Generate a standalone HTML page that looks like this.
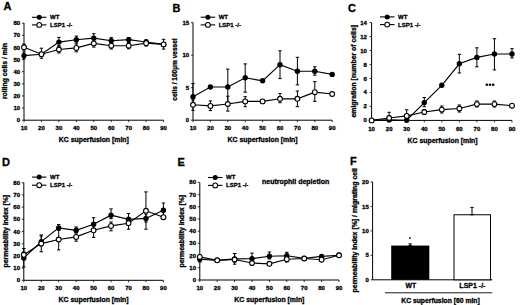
<!DOCTYPE html>
<html><head><meta charset="utf-8"><style>
html,body{margin:0;padding:0;background:#fff;width:520px;height:305px;overflow:hidden}
svg{display:block}
text{font-family:"Liberation Sans", sans-serif;fill:#000;stroke:#000;stroke-width:0.3px}
</style></head><body>
<svg width="520" height="305" viewBox="0 0 520 305">
<text x="3.40" y="9.80" font-size="11" text-anchor="start" font-weight="bold" stroke="#000" stroke-width="0.35">A</text>
<line x1="24.00" y1="23.00" x2="24.00" y2="120.20" stroke="#000" stroke-width="1"/>
<line x1="24.00" y1="120.20" x2="163.60" y2="120.20" stroke="#000" stroke-width="1"/>
<line x1="22.00" y1="120.20" x2="24.00" y2="120.20" stroke="#000" stroke-width="0.8"/>
<text x="20.20" y="122.25" font-size="6" text-anchor="end" font-weight="bold">0</text>
<line x1="22.00" y1="108.08" x2="24.00" y2="108.08" stroke="#000" stroke-width="0.8"/>
<text x="20.20" y="110.12" font-size="6" text-anchor="end" font-weight="bold">10</text>
<line x1="22.00" y1="95.95" x2="24.00" y2="95.95" stroke="#000" stroke-width="0.8"/>
<text x="20.20" y="98.00" font-size="6" text-anchor="end" font-weight="bold">20</text>
<line x1="22.00" y1="83.83" x2="24.00" y2="83.83" stroke="#000" stroke-width="0.8"/>
<text x="20.20" y="85.88" font-size="6" text-anchor="end" font-weight="bold">30</text>
<line x1="22.00" y1="71.70" x2="24.00" y2="71.70" stroke="#000" stroke-width="0.8"/>
<text x="20.20" y="73.75" font-size="6" text-anchor="end" font-weight="bold">40</text>
<line x1="22.00" y1="59.58" x2="24.00" y2="59.58" stroke="#000" stroke-width="0.8"/>
<text x="20.20" y="61.63" font-size="6" text-anchor="end" font-weight="bold">50</text>
<line x1="22.00" y1="47.45" x2="24.00" y2="47.45" stroke="#000" stroke-width="0.8"/>
<text x="20.20" y="49.50" font-size="6" text-anchor="end" font-weight="bold">60</text>
<line x1="22.00" y1="35.33" x2="24.00" y2="35.33" stroke="#000" stroke-width="0.8"/>
<text x="20.20" y="37.38" font-size="6" text-anchor="end" font-weight="bold">70</text>
<line x1="22.00" y1="23.20" x2="24.00" y2="23.20" stroke="#000" stroke-width="0.8"/>
<text x="20.20" y="25.25" font-size="6" text-anchor="end" font-weight="bold">80</text>
<line x1="24.00" y1="120.20" x2="24.00" y2="122.20" stroke="#000" stroke-width="0.8"/>
<text x="24.00" y="130.30" font-size="6" text-anchor="middle" font-weight="bold">10</text>
<line x1="41.45" y1="120.20" x2="41.45" y2="122.20" stroke="#000" stroke-width="0.8"/>
<text x="41.45" y="130.30" font-size="6" text-anchor="middle" font-weight="bold">20</text>
<line x1="58.90" y1="120.20" x2="58.90" y2="122.20" stroke="#000" stroke-width="0.8"/>
<text x="58.90" y="130.30" font-size="6" text-anchor="middle" font-weight="bold">30</text>
<line x1="76.35" y1="120.20" x2="76.35" y2="122.20" stroke="#000" stroke-width="0.8"/>
<text x="76.35" y="130.30" font-size="6" text-anchor="middle" font-weight="bold">40</text>
<line x1="93.80" y1="120.20" x2="93.80" y2="122.20" stroke="#000" stroke-width="0.8"/>
<text x="93.80" y="130.30" font-size="6" text-anchor="middle" font-weight="bold">50</text>
<line x1="111.25" y1="120.20" x2="111.25" y2="122.20" stroke="#000" stroke-width="0.8"/>
<text x="111.25" y="130.30" font-size="6" text-anchor="middle" font-weight="bold">60</text>
<line x1="128.70" y1="120.20" x2="128.70" y2="122.20" stroke="#000" stroke-width="0.8"/>
<text x="128.70" y="130.30" font-size="6" text-anchor="middle" font-weight="bold">70</text>
<line x1="146.15" y1="120.20" x2="146.15" y2="122.20" stroke="#000" stroke-width="0.8"/>
<text x="146.15" y="130.30" font-size="6" text-anchor="middle" font-weight="bold">80</text>
<line x1="163.60" y1="120.20" x2="163.60" y2="122.20" stroke="#000" stroke-width="0.8"/>
<text x="163.60" y="130.30" font-size="6" text-anchor="middle" font-weight="bold">90</text>
<text x="93.80" y="141.70" font-size="6.9" text-anchor="middle" font-weight="bold">KC superfusion [min]</text>
<text x="7.40" y="71.10" font-size="6.85" text-anchor="middle" font-weight="bold" transform="rotate(-90 7.4 71.1)">rolling cells / min</text>
<line x1="32.00" y1="17.30" x2="46.50" y2="17.30" stroke="#000" stroke-width="1.1"/>
<circle cx="39.20" cy="17.30" r="2.5" fill="#000"/>
<text x="50.00" y="19.20" font-size="6" text-anchor="start" font-weight="bold">WT</text>
<line x1="32.00" y1="24.90" x2="46.50" y2="24.90" stroke="#000" stroke-width="1.1"/>
<circle cx="39.20" cy="24.90" r="2.40" fill="#fff" stroke="#000" stroke-width="1.1"/>
<text x="50.00" y="26.80" font-size="6" text-anchor="start" font-weight="bold">LSP1 -/-</text>
<line x1="24.00" y1="52.00" x2="24.00" y2="58.90" stroke="#000" stroke-width="1.0"/>
<line x1="22.30" y1="52.00" x2="25.70" y2="52.00" stroke="#000" stroke-width="1.0"/>
<line x1="22.30" y1="58.90" x2="25.70" y2="58.90" stroke="#000" stroke-width="1.0"/>
<line x1="41.45" y1="48.20" x2="41.45" y2="58.30" stroke="#000" stroke-width="1.0"/>
<line x1="39.75" y1="48.20" x2="43.15" y2="48.20" stroke="#000" stroke-width="1.0"/>
<line x1="39.75" y1="58.30" x2="43.15" y2="58.30" stroke="#000" stroke-width="1.0"/>
<line x1="58.90" y1="37.40" x2="58.90" y2="46.00" stroke="#000" stroke-width="1.0"/>
<line x1="57.20" y1="37.40" x2="60.60" y2="37.40" stroke="#000" stroke-width="1.0"/>
<line x1="57.20" y1="46.00" x2="60.60" y2="46.00" stroke="#000" stroke-width="1.0"/>
<line x1="76.35" y1="36.10" x2="76.35" y2="43.00" stroke="#000" stroke-width="1.0"/>
<line x1="74.65" y1="36.10" x2="78.05" y2="36.10" stroke="#000" stroke-width="1.0"/>
<line x1="74.65" y1="43.00" x2="78.05" y2="43.00" stroke="#000" stroke-width="1.0"/>
<line x1="93.80" y1="33.70" x2="93.80" y2="42.00" stroke="#000" stroke-width="1.0"/>
<line x1="92.10" y1="33.70" x2="95.50" y2="33.70" stroke="#000" stroke-width="1.0"/>
<line x1="92.10" y1="42.00" x2="95.50" y2="42.00" stroke="#000" stroke-width="1.0"/>
<line x1="111.25" y1="37.60" x2="111.25" y2="44.00" stroke="#000" stroke-width="1.0"/>
<line x1="109.55" y1="37.60" x2="112.95" y2="37.60" stroke="#000" stroke-width="1.0"/>
<line x1="109.55" y1="44.00" x2="112.95" y2="44.00" stroke="#000" stroke-width="1.0"/>
<line x1="128.70" y1="37.60" x2="128.70" y2="42.00" stroke="#000" stroke-width="1.0"/>
<line x1="127.00" y1="37.60" x2="130.40" y2="37.60" stroke="#000" stroke-width="1.0"/>
<line x1="127.00" y1="42.00" x2="130.40" y2="42.00" stroke="#000" stroke-width="1.0"/>
<line x1="146.15" y1="39.80" x2="146.15" y2="44.00" stroke="#000" stroke-width="1.0"/>
<line x1="144.45" y1="39.80" x2="147.85" y2="39.80" stroke="#000" stroke-width="1.0"/>
<line x1="144.45" y1="44.00" x2="147.85" y2="44.00" stroke="#000" stroke-width="1.0"/>
<line x1="24.00" y1="44.00" x2="24.00" y2="50.00" stroke="#000" stroke-width="1.0"/>
<line x1="22.30" y1="44.00" x2="25.70" y2="44.00" stroke="#000" stroke-width="1.0"/>
<line x1="22.30" y1="50.00" x2="25.70" y2="50.00" stroke="#000" stroke-width="1.0"/>
<line x1="58.90" y1="46.00" x2="58.90" y2="53.00" stroke="#000" stroke-width="1.0"/>
<line x1="57.20" y1="46.00" x2="60.60" y2="46.00" stroke="#000" stroke-width="1.0"/>
<line x1="57.20" y1="53.00" x2="60.60" y2="53.00" stroke="#000" stroke-width="1.0"/>
<line x1="76.35" y1="44.00" x2="76.35" y2="51.80" stroke="#000" stroke-width="1.0"/>
<line x1="74.65" y1="44.00" x2="78.05" y2="44.00" stroke="#000" stroke-width="1.0"/>
<line x1="74.65" y1="51.80" x2="78.05" y2="51.80" stroke="#000" stroke-width="1.0"/>
<line x1="93.80" y1="40.00" x2="93.80" y2="47.10" stroke="#000" stroke-width="1.0"/>
<line x1="92.10" y1="40.00" x2="95.50" y2="40.00" stroke="#000" stroke-width="1.0"/>
<line x1="92.10" y1="47.10" x2="95.50" y2="47.10" stroke="#000" stroke-width="1.0"/>
<line x1="111.25" y1="42.00" x2="111.25" y2="49.00" stroke="#000" stroke-width="1.0"/>
<line x1="109.55" y1="42.00" x2="112.95" y2="42.00" stroke="#000" stroke-width="1.0"/>
<line x1="109.55" y1="49.00" x2="112.95" y2="49.00" stroke="#000" stroke-width="1.0"/>
<line x1="128.70" y1="42.50" x2="128.70" y2="48.80" stroke="#000" stroke-width="1.0"/>
<line x1="127.00" y1="42.50" x2="130.40" y2="42.50" stroke="#000" stroke-width="1.0"/>
<line x1="127.00" y1="48.80" x2="130.40" y2="48.80" stroke="#000" stroke-width="1.0"/>
<line x1="146.15" y1="41.00" x2="146.15" y2="46.00" stroke="#000" stroke-width="1.0"/>
<line x1="144.45" y1="41.00" x2="147.85" y2="41.00" stroke="#000" stroke-width="1.0"/>
<line x1="144.45" y1="46.00" x2="147.85" y2="46.00" stroke="#000" stroke-width="1.0"/>
<line x1="163.60" y1="39.30" x2="163.60" y2="49.10" stroke="#000" stroke-width="1.0"/>
<line x1="161.90" y1="39.30" x2="165.30" y2="39.30" stroke="#000" stroke-width="1.0"/>
<line x1="161.90" y1="49.10" x2="165.30" y2="49.10" stroke="#000" stroke-width="1.0"/>
<polyline points="24.00,55.60 41.45,54.20 58.90,42.10 76.35,39.70 93.80,38.10 111.25,40.70 128.70,39.60 146.15,42.00 163.60,44.40" fill="none" stroke="#000" stroke-width="1.15"/>
<polyline points="24.00,47.30 41.45,54.20 58.90,49.50 76.35,47.90 93.80,43.40 111.25,45.70 128.70,45.70 146.15,43.20 163.60,44.40" fill="none" stroke="#000" stroke-width="1.15"/>
<circle cx="24.00" cy="55.60" r="2.7" fill="#000"/>
<circle cx="41.45" cy="54.20" r="2.7" fill="#000"/>
<circle cx="58.90" cy="42.10" r="2.7" fill="#000"/>
<circle cx="76.35" cy="39.70" r="2.7" fill="#000"/>
<circle cx="93.80" cy="38.10" r="2.7" fill="#000"/>
<circle cx="111.25" cy="40.70" r="2.7" fill="#000"/>
<circle cx="128.70" cy="39.60" r="2.7" fill="#000"/>
<circle cx="146.15" cy="42.00" r="2.7" fill="#000"/>
<circle cx="163.60" cy="44.40" r="2.7" fill="#000"/>
<circle cx="24.00" cy="47.30" r="2.40" fill="#fff" stroke="#000" stroke-width="1.1"/>
<circle cx="41.45" cy="54.20" r="2.40" fill="#fff" stroke="#000" stroke-width="1.1"/>
<circle cx="58.90" cy="49.50" r="2.40" fill="#fff" stroke="#000" stroke-width="1.1"/>
<circle cx="76.35" cy="47.90" r="2.40" fill="#fff" stroke="#000" stroke-width="1.1"/>
<circle cx="93.80" cy="43.40" r="2.40" fill="#fff" stroke="#000" stroke-width="1.1"/>
<circle cx="111.25" cy="45.70" r="2.40" fill="#fff" stroke="#000" stroke-width="1.1"/>
<circle cx="128.70" cy="45.70" r="2.40" fill="#fff" stroke="#000" stroke-width="1.1"/>
<circle cx="146.15" cy="43.20" r="2.40" fill="#fff" stroke="#000" stroke-width="1.1"/>
<circle cx="163.60" cy="44.40" r="2.40" fill="#fff" stroke="#000" stroke-width="1.1"/>
<text x="172.40" y="12.30" font-size="11" text-anchor="start" font-weight="bold" stroke="#000" stroke-width="0.35">B</text>
<line x1="193.00" y1="22.60" x2="193.00" y2="120.20" stroke="#000" stroke-width="1"/>
<line x1="193.00" y1="120.20" x2="332.20" y2="120.20" stroke="#000" stroke-width="1"/>
<line x1="191.00" y1="120.20" x2="193.00" y2="120.20" stroke="#000" stroke-width="0.8"/>
<text x="189.20" y="122.25" font-size="6" text-anchor="end" font-weight="bold">0</text>
<line x1="191.00" y1="87.70" x2="193.00" y2="87.70" stroke="#000" stroke-width="0.8"/>
<text x="189.20" y="89.75" font-size="6" text-anchor="end" font-weight="bold">5</text>
<line x1="191.00" y1="55.20" x2="193.00" y2="55.20" stroke="#000" stroke-width="0.8"/>
<text x="189.20" y="57.25" font-size="6" text-anchor="end" font-weight="bold">10</text>
<line x1="191.00" y1="22.70" x2="193.00" y2="22.70" stroke="#000" stroke-width="0.8"/>
<text x="189.20" y="24.75" font-size="6" text-anchor="end" font-weight="bold">15</text>
<line x1="193.00" y1="120.20" x2="193.00" y2="122.20" stroke="#000" stroke-width="0.8"/>
<text x="193.00" y="130.30" font-size="6" text-anchor="middle" font-weight="bold">10</text>
<line x1="210.40" y1="120.20" x2="210.40" y2="122.20" stroke="#000" stroke-width="0.8"/>
<text x="210.40" y="130.30" font-size="6" text-anchor="middle" font-weight="bold">20</text>
<line x1="227.80" y1="120.20" x2="227.80" y2="122.20" stroke="#000" stroke-width="0.8"/>
<text x="227.80" y="130.30" font-size="6" text-anchor="middle" font-weight="bold">30</text>
<line x1="245.20" y1="120.20" x2="245.20" y2="122.20" stroke="#000" stroke-width="0.8"/>
<text x="245.20" y="130.30" font-size="6" text-anchor="middle" font-weight="bold">40</text>
<line x1="262.60" y1="120.20" x2="262.60" y2="122.20" stroke="#000" stroke-width="0.8"/>
<text x="262.60" y="130.30" font-size="6" text-anchor="middle" font-weight="bold">50</text>
<line x1="280.00" y1="120.20" x2="280.00" y2="122.20" stroke="#000" stroke-width="0.8"/>
<text x="280.00" y="130.30" font-size="6" text-anchor="middle" font-weight="bold">60</text>
<line x1="297.40" y1="120.20" x2="297.40" y2="122.20" stroke="#000" stroke-width="0.8"/>
<text x="297.40" y="130.30" font-size="6" text-anchor="middle" font-weight="bold">70</text>
<line x1="314.80" y1="120.20" x2="314.80" y2="122.20" stroke="#000" stroke-width="0.8"/>
<text x="314.80" y="130.30" font-size="6" text-anchor="middle" font-weight="bold">80</text>
<line x1="332.20" y1="120.20" x2="332.20" y2="122.20" stroke="#000" stroke-width="0.8"/>
<text x="332.20" y="130.30" font-size="6" text-anchor="middle" font-weight="bold">90</text>
<text x="262.60" y="141.70" font-size="6.9" text-anchor="middle" font-weight="bold">KC superfusion [min]</text>
<text x="176.80" y="69.50" font-size="6.56" text-anchor="middle" font-weight="bold" transform="rotate(-90 176.8 69.5)">cells / 100µm vessel</text>
<line x1="200.70" y1="17.20" x2="215.20" y2="17.20" stroke="#000" stroke-width="1.1"/>
<circle cx="207.90" cy="17.20" r="2.5" fill="#000"/>
<text x="218.70" y="19.10" font-size="6" text-anchor="start" font-weight="bold">WT</text>
<line x1="200.70" y1="24.90" x2="215.20" y2="24.90" stroke="#000" stroke-width="1.1"/>
<circle cx="207.90" cy="24.90" r="2.40" fill="#fff" stroke="#000" stroke-width="1.1"/>
<text x="218.70" y="26.80" font-size="6" text-anchor="start" font-weight="bold">LSP1 -/-</text>
<line x1="193.00" y1="83.50" x2="193.00" y2="100.00" stroke="#000" stroke-width="1.0"/>
<line x1="191.30" y1="83.50" x2="194.70" y2="83.50" stroke="#000" stroke-width="1.0"/>
<line x1="191.30" y1="100.00" x2="194.70" y2="100.00" stroke="#000" stroke-width="1.0"/>
<line x1="227.80" y1="69.10" x2="227.80" y2="105.90" stroke="#000" stroke-width="1.0"/>
<line x1="226.10" y1="69.10" x2="229.50" y2="69.10" stroke="#000" stroke-width="1.0"/>
<line x1="226.10" y1="105.90" x2="229.50" y2="105.90" stroke="#000" stroke-width="1.0"/>
<line x1="245.20" y1="63.90" x2="245.20" y2="92.20" stroke="#000" stroke-width="1.0"/>
<line x1="243.50" y1="63.90" x2="246.90" y2="63.90" stroke="#000" stroke-width="1.0"/>
<line x1="243.50" y1="92.20" x2="246.90" y2="92.20" stroke="#000" stroke-width="1.0"/>
<line x1="280.00" y1="50.80" x2="280.00" y2="78.60" stroke="#000" stroke-width="1.0"/>
<line x1="278.30" y1="50.80" x2="281.70" y2="50.80" stroke="#000" stroke-width="1.0"/>
<line x1="278.30" y1="78.60" x2="281.70" y2="78.60" stroke="#000" stroke-width="1.0"/>
<line x1="297.40" y1="57.30" x2="297.40" y2="84.90" stroke="#000" stroke-width="1.0"/>
<line x1="295.70" y1="57.30" x2="299.10" y2="57.30" stroke="#000" stroke-width="1.0"/>
<line x1="295.70" y1="84.90" x2="299.10" y2="84.90" stroke="#000" stroke-width="1.0"/>
<line x1="314.80" y1="66.80" x2="314.80" y2="75.20" stroke="#000" stroke-width="1.0"/>
<line x1="313.10" y1="66.80" x2="316.50" y2="66.80" stroke="#000" stroke-width="1.0"/>
<line x1="313.10" y1="75.20" x2="316.50" y2="75.20" stroke="#000" stroke-width="1.0"/>
<line x1="193.00" y1="98.60" x2="193.00" y2="110.40" stroke="#000" stroke-width="1.0"/>
<line x1="191.30" y1="98.60" x2="194.70" y2="98.60" stroke="#000" stroke-width="1.0"/>
<line x1="191.30" y1="110.40" x2="194.70" y2="110.40" stroke="#000" stroke-width="1.0"/>
<line x1="210.40" y1="100.90" x2="210.40" y2="110.60" stroke="#000" stroke-width="1.0"/>
<line x1="208.70" y1="100.90" x2="212.10" y2="100.90" stroke="#000" stroke-width="1.0"/>
<line x1="208.70" y1="110.60" x2="212.10" y2="110.60" stroke="#000" stroke-width="1.0"/>
<line x1="227.80" y1="96.20" x2="227.80" y2="111.10" stroke="#000" stroke-width="1.0"/>
<line x1="226.10" y1="96.20" x2="229.50" y2="96.20" stroke="#000" stroke-width="1.0"/>
<line x1="226.10" y1="111.10" x2="229.50" y2="111.10" stroke="#000" stroke-width="1.0"/>
<line x1="245.20" y1="96.70" x2="245.20" y2="106.70" stroke="#000" stroke-width="1.0"/>
<line x1="243.50" y1="96.70" x2="246.90" y2="96.70" stroke="#000" stroke-width="1.0"/>
<line x1="243.50" y1="106.70" x2="246.90" y2="106.70" stroke="#000" stroke-width="1.0"/>
<line x1="280.00" y1="93.50" x2="280.00" y2="102.70" stroke="#000" stroke-width="1.0"/>
<line x1="278.30" y1="93.50" x2="281.70" y2="93.50" stroke="#000" stroke-width="1.0"/>
<line x1="278.30" y1="102.70" x2="281.70" y2="102.70" stroke="#000" stroke-width="1.0"/>
<line x1="297.40" y1="91.00" x2="297.40" y2="106.70" stroke="#000" stroke-width="1.0"/>
<line x1="295.70" y1="91.00" x2="299.10" y2="91.00" stroke="#000" stroke-width="1.0"/>
<line x1="295.70" y1="106.70" x2="299.10" y2="106.70" stroke="#000" stroke-width="1.0"/>
<line x1="314.80" y1="81.70" x2="314.80" y2="101.40" stroke="#000" stroke-width="1.0"/>
<line x1="313.10" y1="81.70" x2="316.50" y2="81.70" stroke="#000" stroke-width="1.0"/>
<line x1="313.10" y1="101.40" x2="316.50" y2="101.40" stroke="#000" stroke-width="1.0"/>
<polyline points="193.00,96.70 210.40,87.00 227.80,87.00 245.20,77.80 262.60,80.80 280.00,64.70 297.40,71.20 314.80,71.20 332.20,74.40" fill="none" stroke="#000" stroke-width="1.15"/>
<polyline points="193.00,104.80 210.40,105.90 227.80,104.00 245.20,101.40 262.60,101.40 280.00,98.80 297.40,98.80 314.80,92.20 332.20,94.00" fill="none" stroke="#000" stroke-width="1.15"/>
<circle cx="193.00" cy="96.70" r="2.7" fill="#000"/>
<circle cx="210.40" cy="87.00" r="2.7" fill="#000"/>
<circle cx="227.80" cy="87.00" r="2.7" fill="#000"/>
<circle cx="245.20" cy="77.80" r="2.7" fill="#000"/>
<circle cx="262.60" cy="80.80" r="2.7" fill="#000"/>
<circle cx="280.00" cy="64.70" r="2.7" fill="#000"/>
<circle cx="297.40" cy="71.20" r="2.7" fill="#000"/>
<circle cx="314.80" cy="71.20" r="2.7" fill="#000"/>
<circle cx="332.20" cy="74.40" r="2.7" fill="#000"/>
<circle cx="193.00" cy="104.80" r="2.40" fill="#fff" stroke="#000" stroke-width="1.1"/>
<circle cx="210.40" cy="105.90" r="2.40" fill="#fff" stroke="#000" stroke-width="1.1"/>
<circle cx="227.80" cy="104.00" r="2.40" fill="#fff" stroke="#000" stroke-width="1.1"/>
<circle cx="245.20" cy="101.40" r="2.40" fill="#fff" stroke="#000" stroke-width="1.1"/>
<circle cx="262.60" cy="101.40" r="2.40" fill="#fff" stroke="#000" stroke-width="1.1"/>
<circle cx="280.00" cy="98.80" r="2.40" fill="#fff" stroke="#000" stroke-width="1.1"/>
<circle cx="297.40" cy="98.80" r="2.40" fill="#fff" stroke="#000" stroke-width="1.1"/>
<circle cx="314.80" cy="92.20" r="2.40" fill="#fff" stroke="#000" stroke-width="1.1"/>
<circle cx="332.20" cy="94.00" r="2.40" fill="#fff" stroke="#000" stroke-width="1.1"/>
<text x="348.10" y="12.40" font-size="11" text-anchor="start" font-weight="bold" stroke="#000" stroke-width="0.35">C</text>
<line x1="371.60" y1="22.60" x2="371.60" y2="120.40" stroke="#000" stroke-width="1"/>
<line x1="371.60" y1="120.40" x2="512.00" y2="120.40" stroke="#000" stroke-width="1"/>
<line x1="369.60" y1="120.40" x2="371.60" y2="120.40" stroke="#000" stroke-width="0.8"/>
<text x="366.90" y="122.45" font-size="6" text-anchor="end" font-weight="bold">0</text>
<line x1="369.60" y1="106.42" x2="371.60" y2="106.42" stroke="#000" stroke-width="0.8"/>
<text x="366.90" y="108.47" font-size="6" text-anchor="end" font-weight="bold">2</text>
<line x1="369.60" y1="92.44" x2="371.60" y2="92.44" stroke="#000" stroke-width="0.8"/>
<text x="366.90" y="94.49" font-size="6" text-anchor="end" font-weight="bold">4</text>
<line x1="369.60" y1="78.46" x2="371.60" y2="78.46" stroke="#000" stroke-width="0.8"/>
<text x="366.90" y="80.51" font-size="6" text-anchor="end" font-weight="bold">6</text>
<line x1="369.60" y1="64.48" x2="371.60" y2="64.48" stroke="#000" stroke-width="0.8"/>
<text x="366.90" y="66.53" font-size="6" text-anchor="end" font-weight="bold">8</text>
<line x1="369.60" y1="50.50" x2="371.60" y2="50.50" stroke="#000" stroke-width="0.8"/>
<text x="366.90" y="52.55" font-size="6" text-anchor="end" font-weight="bold">10</text>
<line x1="369.60" y1="36.52" x2="371.60" y2="36.52" stroke="#000" stroke-width="0.8"/>
<text x="366.90" y="38.57" font-size="6" text-anchor="end" font-weight="bold">12</text>
<line x1="369.60" y1="22.54" x2="371.60" y2="22.54" stroke="#000" stroke-width="0.8"/>
<text x="366.90" y="24.59" font-size="6" text-anchor="end" font-weight="bold">14</text>
<line x1="371.60" y1="120.40" x2="371.60" y2="122.40" stroke="#000" stroke-width="0.8"/>
<text x="371.60" y="130.80" font-size="6" text-anchor="middle" font-weight="bold">10</text>
<line x1="389.15" y1="120.40" x2="389.15" y2="122.40" stroke="#000" stroke-width="0.8"/>
<text x="389.15" y="130.80" font-size="6" text-anchor="middle" font-weight="bold">20</text>
<line x1="406.70" y1="120.40" x2="406.70" y2="122.40" stroke="#000" stroke-width="0.8"/>
<text x="406.70" y="130.80" font-size="6" text-anchor="middle" font-weight="bold">30</text>
<line x1="424.25" y1="120.40" x2="424.25" y2="122.40" stroke="#000" stroke-width="0.8"/>
<text x="424.25" y="130.80" font-size="6" text-anchor="middle" font-weight="bold">40</text>
<line x1="441.80" y1="120.40" x2="441.80" y2="122.40" stroke="#000" stroke-width="0.8"/>
<text x="441.80" y="130.80" font-size="6" text-anchor="middle" font-weight="bold">50</text>
<line x1="459.35" y1="120.40" x2="459.35" y2="122.40" stroke="#000" stroke-width="0.8"/>
<text x="459.35" y="130.80" font-size="6" text-anchor="middle" font-weight="bold">60</text>
<line x1="476.90" y1="120.40" x2="476.90" y2="122.40" stroke="#000" stroke-width="0.8"/>
<text x="476.90" y="130.80" font-size="6" text-anchor="middle" font-weight="bold">70</text>
<line x1="494.45" y1="120.40" x2="494.45" y2="122.40" stroke="#000" stroke-width="0.8"/>
<text x="494.45" y="130.80" font-size="6" text-anchor="middle" font-weight="bold">80</text>
<line x1="512.00" y1="120.40" x2="512.00" y2="122.40" stroke="#000" stroke-width="0.8"/>
<text x="512.00" y="130.80" font-size="6" text-anchor="middle" font-weight="bold">90</text>
<text x="442.60" y="143.30" font-size="6.9" text-anchor="middle" font-weight="bold">KC superfusion [min]</text>
<text x="356.20" y="71.20" font-size="6.9" text-anchor="middle" font-weight="bold" transform="rotate(-90 356.2 71.2)">emigration [number of cells]</text>
<line x1="380.00" y1="16.90" x2="394.50" y2="16.90" stroke="#000" stroke-width="1.1"/>
<circle cx="387.20" cy="16.90" r="2.5" fill="#000"/>
<text x="398.00" y="18.80" font-size="6" text-anchor="start" font-weight="bold">WT</text>
<line x1="380.00" y1="24.60" x2="394.50" y2="24.60" stroke="#000" stroke-width="1.1"/>
<circle cx="387.20" cy="24.60" r="2.40" fill="#fff" stroke="#000" stroke-width="1.1"/>
<text x="398.00" y="26.50" font-size="6" text-anchor="start" font-weight="bold">LSP1 -/-</text>
<line x1="424.25" y1="97.50" x2="424.25" y2="106.70" stroke="#000" stroke-width="1.0"/>
<line x1="422.55" y1="97.50" x2="425.95" y2="97.50" stroke="#000" stroke-width="1.0"/>
<line x1="422.55" y1="106.70" x2="425.95" y2="106.70" stroke="#000" stroke-width="1.0"/>
<line x1="459.35" y1="54.30" x2="459.35" y2="73.00" stroke="#000" stroke-width="1.0"/>
<line x1="457.65" y1="54.30" x2="461.05" y2="54.30" stroke="#000" stroke-width="1.0"/>
<line x1="457.65" y1="73.00" x2="461.05" y2="73.00" stroke="#000" stroke-width="1.0"/>
<line x1="476.90" y1="47.80" x2="476.90" y2="66.80" stroke="#000" stroke-width="1.0"/>
<line x1="475.20" y1="47.80" x2="478.60" y2="47.80" stroke="#000" stroke-width="1.0"/>
<line x1="475.20" y1="66.80" x2="478.60" y2="66.80" stroke="#000" stroke-width="1.0"/>
<line x1="494.45" y1="38.70" x2="494.45" y2="69.90" stroke="#000" stroke-width="1.0"/>
<line x1="492.75" y1="38.70" x2="496.15" y2="38.70" stroke="#000" stroke-width="1.0"/>
<line x1="492.75" y1="69.90" x2="496.15" y2="69.90" stroke="#000" stroke-width="1.0"/>
<line x1="512.00" y1="48.70" x2="512.00" y2="58.00" stroke="#000" stroke-width="1.0"/>
<line x1="510.30" y1="48.70" x2="513.70" y2="48.70" stroke="#000" stroke-width="1.0"/>
<line x1="510.30" y1="58.00" x2="513.70" y2="58.00" stroke="#000" stroke-width="1.0"/>
<line x1="389.15" y1="112.30" x2="389.15" y2="121.00" stroke="#000" stroke-width="1.0"/>
<line x1="387.45" y1="112.30" x2="390.85" y2="112.30" stroke="#000" stroke-width="1.0"/>
<line x1="387.45" y1="121.00" x2="390.85" y2="121.00" stroke="#000" stroke-width="1.0"/>
<line x1="406.70" y1="109.80" x2="406.70" y2="120.00" stroke="#000" stroke-width="1.0"/>
<line x1="405.00" y1="109.80" x2="408.40" y2="109.80" stroke="#000" stroke-width="1.0"/>
<line x1="405.00" y1="120.00" x2="408.40" y2="120.00" stroke="#000" stroke-width="1.0"/>
<line x1="424.25" y1="109.50" x2="424.25" y2="114.50" stroke="#000" stroke-width="1.0"/>
<line x1="422.55" y1="109.50" x2="425.95" y2="109.50" stroke="#000" stroke-width="1.0"/>
<line x1="422.55" y1="114.50" x2="425.95" y2="114.50" stroke="#000" stroke-width="1.0"/>
<line x1="441.80" y1="106.00" x2="441.80" y2="113.00" stroke="#000" stroke-width="1.0"/>
<line x1="440.10" y1="106.00" x2="443.50" y2="106.00" stroke="#000" stroke-width="1.0"/>
<line x1="440.10" y1="113.00" x2="443.50" y2="113.00" stroke="#000" stroke-width="1.0"/>
<line x1="459.35" y1="105.00" x2="459.35" y2="112.00" stroke="#000" stroke-width="1.0"/>
<line x1="457.65" y1="105.00" x2="461.05" y2="105.00" stroke="#000" stroke-width="1.0"/>
<line x1="457.65" y1="112.00" x2="461.05" y2="112.00" stroke="#000" stroke-width="1.0"/>
<line x1="476.90" y1="101.00" x2="476.90" y2="107.00" stroke="#000" stroke-width="1.0"/>
<line x1="475.20" y1="101.00" x2="478.60" y2="101.00" stroke="#000" stroke-width="1.0"/>
<line x1="475.20" y1="107.00" x2="478.60" y2="107.00" stroke="#000" stroke-width="1.0"/>
<line x1="494.45" y1="101.00" x2="494.45" y2="107.00" stroke="#000" stroke-width="1.0"/>
<line x1="492.75" y1="101.00" x2="496.15" y2="101.00" stroke="#000" stroke-width="1.0"/>
<line x1="492.75" y1="107.00" x2="496.15" y2="107.00" stroke="#000" stroke-width="1.0"/>
<polyline points="371.60,120.40 389.15,119.90 406.70,120.20 424.25,102.60 441.80,85.30 459.35,63.80 476.90,57.40 494.45,54.00 512.00,54.00" fill="none" stroke="#000" stroke-width="1.15"/>
<polyline points="371.60,120.40 389.15,118.00 406.70,115.90 424.25,112.00 441.80,109.60 459.35,108.50 476.90,104.10 494.45,104.10 512.00,105.70" fill="none" stroke="#000" stroke-width="1.15"/>
<circle cx="371.60" cy="120.40" r="2.7" fill="#000"/>
<circle cx="389.15" cy="119.90" r="2.7" fill="#000"/>
<circle cx="406.70" cy="120.20" r="2.7" fill="#000"/>
<circle cx="424.25" cy="102.60" r="2.7" fill="#000"/>
<circle cx="441.80" cy="85.30" r="2.7" fill="#000"/>
<circle cx="459.35" cy="63.80" r="2.7" fill="#000"/>
<circle cx="476.90" cy="57.40" r="2.7" fill="#000"/>
<circle cx="494.45" cy="54.00" r="2.7" fill="#000"/>
<circle cx="512.00" cy="54.00" r="2.7" fill="#000"/>
<circle cx="371.60" cy="120.40" r="2.40" fill="#fff" stroke="#000" stroke-width="1.1"/>
<circle cx="389.15" cy="118.00" r="2.40" fill="#fff" stroke="#000" stroke-width="1.1"/>
<circle cx="406.70" cy="115.90" r="2.40" fill="#fff" stroke="#000" stroke-width="1.1"/>
<circle cx="424.25" cy="112.00" r="2.40" fill="#fff" stroke="#000" stroke-width="1.1"/>
<circle cx="441.80" cy="109.60" r="2.40" fill="#fff" stroke="#000" stroke-width="1.1"/>
<circle cx="459.35" cy="108.50" r="2.40" fill="#fff" stroke="#000" stroke-width="1.1"/>
<circle cx="476.90" cy="104.10" r="2.40" fill="#fff" stroke="#000" stroke-width="1.1"/>
<circle cx="494.45" cy="104.10" r="2.40" fill="#fff" stroke="#000" stroke-width="1.1"/>
<circle cx="512.00" cy="105.70" r="2.40" fill="#fff" stroke="#000" stroke-width="1.1"/>
<circle cx="486.8" cy="84.8" r="1.3" fill="#000"/>
<circle cx="490.0" cy="84.8" r="1.3" fill="#000"/>
<circle cx="493.2" cy="84.8" r="1.3" fill="#000"/>
<text x="2.10" y="166.20" font-size="11" text-anchor="start" font-weight="bold" stroke="#000" stroke-width="0.35">D</text>
<line x1="23.80" y1="182.70" x2="23.80" y2="280.30" stroke="#000" stroke-width="1"/>
<line x1="23.80" y1="280.30" x2="163.40" y2="280.30" stroke="#000" stroke-width="1"/>
<line x1="21.80" y1="280.30" x2="23.80" y2="280.30" stroke="#000" stroke-width="0.8"/>
<text x="20.00" y="282.35" font-size="6" text-anchor="end" font-weight="bold">0</text>
<line x1="21.80" y1="268.10" x2="23.80" y2="268.10" stroke="#000" stroke-width="0.8"/>
<text x="20.00" y="270.15" font-size="6" text-anchor="end" font-weight="bold">10</text>
<line x1="21.80" y1="255.90" x2="23.80" y2="255.90" stroke="#000" stroke-width="0.8"/>
<text x="20.00" y="257.95" font-size="6" text-anchor="end" font-weight="bold">20</text>
<line x1="21.80" y1="243.70" x2="23.80" y2="243.70" stroke="#000" stroke-width="0.8"/>
<text x="20.00" y="245.75" font-size="6" text-anchor="end" font-weight="bold">30</text>
<line x1="21.80" y1="231.50" x2="23.80" y2="231.50" stroke="#000" stroke-width="0.8"/>
<text x="20.00" y="233.55" font-size="6" text-anchor="end" font-weight="bold">40</text>
<line x1="21.80" y1="219.30" x2="23.80" y2="219.30" stroke="#000" stroke-width="0.8"/>
<text x="20.00" y="221.35" font-size="6" text-anchor="end" font-weight="bold">50</text>
<line x1="21.80" y1="207.10" x2="23.80" y2="207.10" stroke="#000" stroke-width="0.8"/>
<text x="20.00" y="209.15" font-size="6" text-anchor="end" font-weight="bold">60</text>
<line x1="21.80" y1="194.90" x2="23.80" y2="194.90" stroke="#000" stroke-width="0.8"/>
<text x="20.00" y="196.95" font-size="6" text-anchor="end" font-weight="bold">70</text>
<line x1="21.80" y1="182.70" x2="23.80" y2="182.70" stroke="#000" stroke-width="0.8"/>
<text x="20.00" y="184.75" font-size="6" text-anchor="end" font-weight="bold">80</text>
<line x1="23.80" y1="280.30" x2="23.80" y2="282.30" stroke="#000" stroke-width="0.8"/>
<text x="23.80" y="290.20" font-size="6" text-anchor="middle" font-weight="bold">10</text>
<line x1="41.25" y1="280.30" x2="41.25" y2="282.30" stroke="#000" stroke-width="0.8"/>
<text x="41.25" y="290.20" font-size="6" text-anchor="middle" font-weight="bold">20</text>
<line x1="58.70" y1="280.30" x2="58.70" y2="282.30" stroke="#000" stroke-width="0.8"/>
<text x="58.70" y="290.20" font-size="6" text-anchor="middle" font-weight="bold">30</text>
<line x1="76.15" y1="280.30" x2="76.15" y2="282.30" stroke="#000" stroke-width="0.8"/>
<text x="76.15" y="290.20" font-size="6" text-anchor="middle" font-weight="bold">40</text>
<line x1="93.60" y1="280.30" x2="93.60" y2="282.30" stroke="#000" stroke-width="0.8"/>
<text x="93.60" y="290.20" font-size="6" text-anchor="middle" font-weight="bold">50</text>
<line x1="111.05" y1="280.30" x2="111.05" y2="282.30" stroke="#000" stroke-width="0.8"/>
<text x="111.05" y="290.20" font-size="6" text-anchor="middle" font-weight="bold">60</text>
<line x1="128.50" y1="280.30" x2="128.50" y2="282.30" stroke="#000" stroke-width="0.8"/>
<text x="128.50" y="290.20" font-size="6" text-anchor="middle" font-weight="bold">70</text>
<line x1="145.95" y1="280.30" x2="145.95" y2="282.30" stroke="#000" stroke-width="0.8"/>
<text x="145.95" y="290.20" font-size="6" text-anchor="middle" font-weight="bold">80</text>
<line x1="163.40" y1="280.30" x2="163.40" y2="282.30" stroke="#000" stroke-width="0.8"/>
<text x="163.40" y="290.20" font-size="6" text-anchor="middle" font-weight="bold">90</text>
<text x="93.60" y="301.70" font-size="6.9" text-anchor="middle" font-weight="bold">KC superfusion [min]</text>
<text x="7.70" y="231.20" font-size="6.85" text-anchor="middle" font-weight="bold" transform="rotate(-90 7.7 231.2)">permeability index [%]</text>
<line x1="32.00" y1="177.10" x2="46.50" y2="177.10" stroke="#000" stroke-width="1.1"/>
<circle cx="39.20" cy="177.10" r="2.5" fill="#000"/>
<text x="50.00" y="179.00" font-size="6" text-anchor="start" font-weight="bold">WT</text>
<line x1="32.00" y1="185.20" x2="46.50" y2="185.20" stroke="#000" stroke-width="1.1"/>
<circle cx="39.20" cy="185.20" r="2.40" fill="#fff" stroke="#000" stroke-width="1.1"/>
<text x="50.00" y="187.10" font-size="6" text-anchor="start" font-weight="bold">LSP1 -/-</text>
<line x1="23.80" y1="248.50" x2="23.80" y2="267.00" stroke="#000" stroke-width="1.0"/>
<line x1="22.10" y1="248.50" x2="25.50" y2="248.50" stroke="#000" stroke-width="1.0"/>
<line x1="22.10" y1="267.00" x2="25.50" y2="267.00" stroke="#000" stroke-width="1.0"/>
<line x1="41.25" y1="234.90" x2="41.25" y2="246.00" stroke="#000" stroke-width="1.0"/>
<line x1="39.55" y1="234.90" x2="42.95" y2="234.90" stroke="#000" stroke-width="1.0"/>
<line x1="39.55" y1="246.00" x2="42.95" y2="246.00" stroke="#000" stroke-width="1.0"/>
<line x1="58.70" y1="224.60" x2="58.70" y2="230.20" stroke="#000" stroke-width="1.0"/>
<line x1="57.00" y1="224.60" x2="60.40" y2="224.60" stroke="#000" stroke-width="1.0"/>
<line x1="57.00" y1="230.20" x2="60.40" y2="230.20" stroke="#000" stroke-width="1.0"/>
<line x1="76.15" y1="227.00" x2="76.15" y2="233.00" stroke="#000" stroke-width="1.0"/>
<line x1="74.45" y1="227.00" x2="77.85" y2="227.00" stroke="#000" stroke-width="1.0"/>
<line x1="74.45" y1="233.00" x2="77.85" y2="233.00" stroke="#000" stroke-width="1.0"/>
<line x1="93.60" y1="217.70" x2="93.60" y2="230.00" stroke="#000" stroke-width="1.0"/>
<line x1="91.90" y1="217.70" x2="95.30" y2="217.70" stroke="#000" stroke-width="1.0"/>
<line x1="91.90" y1="230.00" x2="95.30" y2="230.00" stroke="#000" stroke-width="1.0"/>
<line x1="111.05" y1="208.90" x2="111.05" y2="218.70" stroke="#000" stroke-width="1.0"/>
<line x1="109.35" y1="208.90" x2="112.75" y2="208.90" stroke="#000" stroke-width="1.0"/>
<line x1="109.35" y1="218.70" x2="112.75" y2="218.70" stroke="#000" stroke-width="1.0"/>
<line x1="128.50" y1="213.50" x2="128.50" y2="224.00" stroke="#000" stroke-width="1.0"/>
<line x1="126.80" y1="213.50" x2="130.20" y2="213.50" stroke="#000" stroke-width="1.0"/>
<line x1="126.80" y1="224.00" x2="130.20" y2="224.00" stroke="#000" stroke-width="1.0"/>
<line x1="145.95" y1="214.00" x2="145.95" y2="222.00" stroke="#000" stroke-width="1.0"/>
<line x1="144.25" y1="214.00" x2="147.65" y2="214.00" stroke="#000" stroke-width="1.0"/>
<line x1="144.25" y1="222.00" x2="147.65" y2="222.00" stroke="#000" stroke-width="1.0"/>
<line x1="163.40" y1="203.00" x2="163.40" y2="216.00" stroke="#000" stroke-width="1.0"/>
<line x1="161.70" y1="203.00" x2="165.10" y2="203.00" stroke="#000" stroke-width="1.0"/>
<line x1="161.70" y1="216.00" x2="165.10" y2="216.00" stroke="#000" stroke-width="1.0"/>
<line x1="23.80" y1="252.00" x2="23.80" y2="259.80" stroke="#000" stroke-width="1.0"/>
<line x1="22.10" y1="252.00" x2="25.50" y2="252.00" stroke="#000" stroke-width="1.0"/>
<line x1="22.10" y1="259.80" x2="25.50" y2="259.80" stroke="#000" stroke-width="1.0"/>
<line x1="41.25" y1="236.00" x2="41.25" y2="251.80" stroke="#000" stroke-width="1.0"/>
<line x1="39.55" y1="236.00" x2="42.95" y2="236.00" stroke="#000" stroke-width="1.0"/>
<line x1="39.55" y1="251.80" x2="42.95" y2="251.80" stroke="#000" stroke-width="1.0"/>
<line x1="58.70" y1="229.60" x2="58.70" y2="249.90" stroke="#000" stroke-width="1.0"/>
<line x1="57.00" y1="229.60" x2="60.40" y2="229.60" stroke="#000" stroke-width="1.0"/>
<line x1="57.00" y1="249.90" x2="60.40" y2="249.90" stroke="#000" stroke-width="1.0"/>
<line x1="76.15" y1="232.40" x2="76.15" y2="241.20" stroke="#000" stroke-width="1.0"/>
<line x1="74.45" y1="232.40" x2="77.85" y2="232.40" stroke="#000" stroke-width="1.0"/>
<line x1="74.45" y1="241.20" x2="77.85" y2="241.20" stroke="#000" stroke-width="1.0"/>
<line x1="93.60" y1="225.90" x2="93.60" y2="237.40" stroke="#000" stroke-width="1.0"/>
<line x1="91.90" y1="225.90" x2="95.30" y2="225.90" stroke="#000" stroke-width="1.0"/>
<line x1="91.90" y1="237.40" x2="95.30" y2="237.40" stroke="#000" stroke-width="1.0"/>
<line x1="111.05" y1="222.00" x2="111.05" y2="230.80" stroke="#000" stroke-width="1.0"/>
<line x1="109.35" y1="222.00" x2="112.75" y2="222.00" stroke="#000" stroke-width="1.0"/>
<line x1="109.35" y1="230.80" x2="112.75" y2="230.80" stroke="#000" stroke-width="1.0"/>
<line x1="128.50" y1="218.00" x2="128.50" y2="229.20" stroke="#000" stroke-width="1.0"/>
<line x1="126.80" y1="218.00" x2="130.20" y2="218.00" stroke="#000" stroke-width="1.0"/>
<line x1="126.80" y1="229.20" x2="130.20" y2="229.20" stroke="#000" stroke-width="1.0"/>
<line x1="145.95" y1="191.90" x2="145.95" y2="229.20" stroke="#000" stroke-width="1.0"/>
<line x1="144.25" y1="191.90" x2="147.65" y2="191.90" stroke="#000" stroke-width="1.0"/>
<line x1="144.25" y1="229.20" x2="147.65" y2="229.20" stroke="#000" stroke-width="1.0"/>
<line x1="163.40" y1="212.00" x2="163.40" y2="219.50" stroke="#000" stroke-width="1.0"/>
<line x1="161.70" y1="212.00" x2="165.10" y2="212.00" stroke="#000" stroke-width="1.0"/>
<line x1="161.70" y1="219.50" x2="165.10" y2="219.50" stroke="#000" stroke-width="1.0"/>
<polyline points="23.80,257.90 41.25,241.60 58.70,227.90 76.15,230.30 93.60,224.30 111.05,215.20 128.50,219.30 145.95,218.40 163.40,210.20" fill="none" stroke="#000" stroke-width="1.15"/>
<polyline points="23.80,254.80 41.25,243.60 58.70,239.50 76.15,236.90 93.60,230.30 111.05,225.90 128.50,223.20 145.95,210.80 163.40,217.20" fill="none" stroke="#000" stroke-width="1.15"/>
<circle cx="23.80" cy="257.90" r="2.7" fill="#000"/>
<circle cx="41.25" cy="241.60" r="2.7" fill="#000"/>
<circle cx="58.70" cy="227.90" r="2.7" fill="#000"/>
<circle cx="76.15" cy="230.30" r="2.7" fill="#000"/>
<circle cx="93.60" cy="224.30" r="2.7" fill="#000"/>
<circle cx="111.05" cy="215.20" r="2.7" fill="#000"/>
<circle cx="128.50" cy="219.30" r="2.7" fill="#000"/>
<circle cx="145.95" cy="218.40" r="2.7" fill="#000"/>
<circle cx="163.40" cy="210.20" r="2.7" fill="#000"/>
<circle cx="23.80" cy="254.80" r="2.40" fill="#fff" stroke="#000" stroke-width="1.1"/>
<circle cx="41.25" cy="243.60" r="2.40" fill="#fff" stroke="#000" stroke-width="1.1"/>
<circle cx="58.70" cy="239.50" r="2.40" fill="#fff" stroke="#000" stroke-width="1.1"/>
<circle cx="76.15" cy="236.90" r="2.40" fill="#fff" stroke="#000" stroke-width="1.1"/>
<circle cx="93.60" cy="230.30" r="2.40" fill="#fff" stroke="#000" stroke-width="1.1"/>
<circle cx="111.05" cy="225.90" r="2.40" fill="#fff" stroke="#000" stroke-width="1.1"/>
<circle cx="128.50" cy="223.20" r="2.40" fill="#fff" stroke="#000" stroke-width="1.1"/>
<circle cx="145.95" cy="210.80" r="2.40" fill="#fff" stroke="#000" stroke-width="1.1"/>
<circle cx="163.40" cy="217.20" r="2.40" fill="#fff" stroke="#000" stroke-width="1.1"/>
<text x="177.60" y="165.70" font-size="11" text-anchor="start" font-weight="bold" stroke="#000" stroke-width="0.35">E</text>
<line x1="199.80" y1="182.70" x2="199.80" y2="280.00" stroke="#000" stroke-width="1"/>
<line x1="199.80" y1="280.00" x2="339.00" y2="280.00" stroke="#000" stroke-width="1"/>
<line x1="197.80" y1="280.00" x2="199.80" y2="280.00" stroke="#000" stroke-width="0.8"/>
<text x="196.00" y="282.05" font-size="6" text-anchor="end" font-weight="bold">0</text>
<line x1="197.80" y1="267.80" x2="199.80" y2="267.80" stroke="#000" stroke-width="0.8"/>
<text x="196.00" y="269.85" font-size="6" text-anchor="end" font-weight="bold">10</text>
<line x1="197.80" y1="255.60" x2="199.80" y2="255.60" stroke="#000" stroke-width="0.8"/>
<text x="196.00" y="257.65" font-size="6" text-anchor="end" font-weight="bold">20</text>
<line x1="197.80" y1="243.40" x2="199.80" y2="243.40" stroke="#000" stroke-width="0.8"/>
<text x="196.00" y="245.45" font-size="6" text-anchor="end" font-weight="bold">30</text>
<line x1="197.80" y1="231.20" x2="199.80" y2="231.20" stroke="#000" stroke-width="0.8"/>
<text x="196.00" y="233.25" font-size="6" text-anchor="end" font-weight="bold">40</text>
<line x1="197.80" y1="219.00" x2="199.80" y2="219.00" stroke="#000" stroke-width="0.8"/>
<text x="196.00" y="221.05" font-size="6" text-anchor="end" font-weight="bold">50</text>
<line x1="197.80" y1="206.80" x2="199.80" y2="206.80" stroke="#000" stroke-width="0.8"/>
<text x="196.00" y="208.85" font-size="6" text-anchor="end" font-weight="bold">60</text>
<line x1="197.80" y1="194.60" x2="199.80" y2="194.60" stroke="#000" stroke-width="0.8"/>
<text x="196.00" y="196.65" font-size="6" text-anchor="end" font-weight="bold">70</text>
<line x1="197.80" y1="182.40" x2="199.80" y2="182.40" stroke="#000" stroke-width="0.8"/>
<text x="196.00" y="184.45" font-size="6" text-anchor="end" font-weight="bold">80</text>
<line x1="199.80" y1="280.00" x2="199.80" y2="282.00" stroke="#000" stroke-width="0.8"/>
<text x="199.80" y="290.20" font-size="6" text-anchor="middle" font-weight="bold">10</text>
<line x1="217.20" y1="280.00" x2="217.20" y2="282.00" stroke="#000" stroke-width="0.8"/>
<text x="217.20" y="290.20" font-size="6" text-anchor="middle" font-weight="bold">20</text>
<line x1="234.60" y1="280.00" x2="234.60" y2="282.00" stroke="#000" stroke-width="0.8"/>
<text x="234.60" y="290.20" font-size="6" text-anchor="middle" font-weight="bold">30</text>
<line x1="252.00" y1="280.00" x2="252.00" y2="282.00" stroke="#000" stroke-width="0.8"/>
<text x="252.00" y="290.20" font-size="6" text-anchor="middle" font-weight="bold">40</text>
<line x1="269.40" y1="280.00" x2="269.40" y2="282.00" stroke="#000" stroke-width="0.8"/>
<text x="269.40" y="290.20" font-size="6" text-anchor="middle" font-weight="bold">50</text>
<line x1="286.80" y1="280.00" x2="286.80" y2="282.00" stroke="#000" stroke-width="0.8"/>
<text x="286.80" y="290.20" font-size="6" text-anchor="middle" font-weight="bold">60</text>
<line x1="304.20" y1="280.00" x2="304.20" y2="282.00" stroke="#000" stroke-width="0.8"/>
<text x="304.20" y="290.20" font-size="6" text-anchor="middle" font-weight="bold">70</text>
<line x1="321.60" y1="280.00" x2="321.60" y2="282.00" stroke="#000" stroke-width="0.8"/>
<text x="321.60" y="290.20" font-size="6" text-anchor="middle" font-weight="bold">80</text>
<line x1="339.00" y1="280.00" x2="339.00" y2="282.00" stroke="#000" stroke-width="0.8"/>
<text x="339.00" y="290.20" font-size="6" text-anchor="middle" font-weight="bold">90</text>
<text x="269.40" y="301.60" font-size="6.9" text-anchor="middle" font-weight="bold">KC superfusion [min]</text>
<text x="184.20" y="231.20" font-size="6.85" text-anchor="middle" font-weight="bold" transform="rotate(-90 184.2 231.2)">permeability index [%]</text>
<line x1="208.00" y1="177.50" x2="222.50" y2="177.50" stroke="#000" stroke-width="1.1"/>
<circle cx="215.20" cy="177.50" r="2.5" fill="#000"/>
<text x="226.00" y="179.40" font-size="6" text-anchor="start" font-weight="bold">WT</text>
<line x1="208.00" y1="185.40" x2="222.50" y2="185.40" stroke="#000" stroke-width="1.1"/>
<circle cx="215.20" cy="185.40" r="2.40" fill="#fff" stroke="#000" stroke-width="1.1"/>
<text x="226.00" y="187.30" font-size="6" text-anchor="start" font-weight="bold">LSP1 -/-</text>
<line x1="234.60" y1="253.50" x2="234.60" y2="262.00" stroke="#000" stroke-width="1.0"/>
<line x1="232.90" y1="253.50" x2="236.30" y2="253.50" stroke="#000" stroke-width="1.0"/>
<line x1="232.90" y1="262.00" x2="236.30" y2="262.00" stroke="#000" stroke-width="1.0"/>
<line x1="252.00" y1="253.10" x2="252.00" y2="262.00" stroke="#000" stroke-width="1.0"/>
<line x1="250.30" y1="253.10" x2="253.70" y2="253.10" stroke="#000" stroke-width="1.0"/>
<line x1="250.30" y1="262.00" x2="253.70" y2="262.00" stroke="#000" stroke-width="1.0"/>
<line x1="269.40" y1="252.00" x2="269.40" y2="259.00" stroke="#000" stroke-width="1.0"/>
<line x1="267.70" y1="252.00" x2="271.10" y2="252.00" stroke="#000" stroke-width="1.0"/>
<line x1="267.70" y1="259.00" x2="271.10" y2="259.00" stroke="#000" stroke-width="1.0"/>
<line x1="286.80" y1="252.30" x2="286.80" y2="259.00" stroke="#000" stroke-width="1.0"/>
<line x1="285.10" y1="252.30" x2="288.50" y2="252.30" stroke="#000" stroke-width="1.0"/>
<line x1="285.10" y1="259.00" x2="288.50" y2="259.00" stroke="#000" stroke-width="1.0"/>
<line x1="321.60" y1="255.00" x2="321.60" y2="259.00" stroke="#000" stroke-width="1.0"/>
<line x1="319.90" y1="255.00" x2="323.30" y2="255.00" stroke="#000" stroke-width="1.0"/>
<line x1="319.90" y1="259.00" x2="323.30" y2="259.00" stroke="#000" stroke-width="1.0"/>
<line x1="199.80" y1="255.00" x2="199.80" y2="262.00" stroke="#000" stroke-width="1.0"/>
<line x1="198.10" y1="255.00" x2="201.50" y2="255.00" stroke="#000" stroke-width="1.0"/>
<line x1="198.10" y1="262.00" x2="201.50" y2="262.00" stroke="#000" stroke-width="1.0"/>
<line x1="234.60" y1="253.50" x2="234.60" y2="264.20" stroke="#000" stroke-width="1.0"/>
<line x1="232.90" y1="253.50" x2="236.30" y2="253.50" stroke="#000" stroke-width="1.0"/>
<line x1="232.90" y1="264.20" x2="236.30" y2="264.20" stroke="#000" stroke-width="1.0"/>
<line x1="252.00" y1="260.00" x2="252.00" y2="265.00" stroke="#000" stroke-width="1.0"/>
<line x1="250.30" y1="260.00" x2="253.70" y2="260.00" stroke="#000" stroke-width="1.0"/>
<line x1="250.30" y1="265.00" x2="253.70" y2="265.00" stroke="#000" stroke-width="1.0"/>
<line x1="286.80" y1="256.00" x2="286.80" y2="262.00" stroke="#000" stroke-width="1.0"/>
<line x1="285.10" y1="256.00" x2="288.50" y2="256.00" stroke="#000" stroke-width="1.0"/>
<line x1="285.10" y1="262.00" x2="288.50" y2="262.00" stroke="#000" stroke-width="1.0"/>
<polyline points="199.80,259.20 217.20,260.40 234.60,258.90 252.00,258.60 269.40,256.20 286.80,255.80 304.20,258.40 321.60,256.40 339.00,255.30" fill="none" stroke="#000" stroke-width="1.15"/>
<polyline points="199.80,256.90 217.20,260.30 234.60,259.50 252.00,263.00 269.40,263.80 286.80,259.20 304.20,258.50 321.60,259.70 339.00,255.30" fill="none" stroke="#000" stroke-width="1.15"/>
<circle cx="199.80" cy="259.20" r="2.7" fill="#000"/>
<circle cx="217.20" cy="260.40" r="2.7" fill="#000"/>
<circle cx="234.60" cy="258.90" r="2.7" fill="#000"/>
<circle cx="252.00" cy="258.60" r="2.7" fill="#000"/>
<circle cx="269.40" cy="256.20" r="2.7" fill="#000"/>
<circle cx="286.80" cy="255.80" r="2.7" fill="#000"/>
<circle cx="304.20" cy="258.40" r="2.7" fill="#000"/>
<circle cx="321.60" cy="256.40" r="2.7" fill="#000"/>
<circle cx="339.00" cy="255.30" r="2.7" fill="#000"/>
<circle cx="199.80" cy="256.90" r="2.40" fill="#fff" stroke="#000" stroke-width="1.1"/>
<circle cx="217.20" cy="260.30" r="2.40" fill="#fff" stroke="#000" stroke-width="1.1"/>
<circle cx="234.60" cy="259.50" r="2.40" fill="#fff" stroke="#000" stroke-width="1.1"/>
<circle cx="252.00" cy="263.00" r="2.40" fill="#fff" stroke="#000" stroke-width="1.1"/>
<circle cx="269.40" cy="263.80" r="2.40" fill="#fff" stroke="#000" stroke-width="1.1"/>
<circle cx="286.80" cy="259.20" r="2.40" fill="#fff" stroke="#000" stroke-width="1.1"/>
<circle cx="304.20" cy="258.50" r="2.40" fill="#fff" stroke="#000" stroke-width="1.1"/>
<circle cx="321.60" cy="259.70" r="2.40" fill="#fff" stroke="#000" stroke-width="1.1"/>
<circle cx="339.00" cy="255.30" r="2.40" fill="#fff" stroke="#000" stroke-width="1.1"/>
<text x="262.00" y="184.00" font-size="7" text-anchor="start" font-weight="bold">neutrophil depletion</text>
<text x="350.00" y="164.90" font-size="11" text-anchor="start" font-weight="bold" stroke="#000" stroke-width="0.35">F</text>
<line x1="372.60" y1="182.00" x2="372.60" y2="279.80" stroke="#000" stroke-width="1"/>
<line x1="372.60" y1="279.80" x2="492.30" y2="279.80" stroke="#000" stroke-width="1"/>
<line x1="370.60" y1="279.80" x2="372.60" y2="279.80" stroke="#000" stroke-width="0.8"/>
<text x="368.80" y="281.85" font-size="6" text-anchor="end" font-weight="bold">0</text>
<line x1="370.60" y1="255.35" x2="372.60" y2="255.35" stroke="#000" stroke-width="0.8"/>
<text x="368.80" y="257.40" font-size="6" text-anchor="end" font-weight="bold">5</text>
<line x1="370.60" y1="230.90" x2="372.60" y2="230.90" stroke="#000" stroke-width="0.8"/>
<text x="368.80" y="232.95" font-size="6" text-anchor="end" font-weight="bold">10</text>
<line x1="370.60" y1="206.45" x2="372.60" y2="206.45" stroke="#000" stroke-width="0.8"/>
<text x="368.80" y="208.50" font-size="6" text-anchor="end" font-weight="bold">15</text>
<line x1="370.60" y1="182.00" x2="372.60" y2="182.00" stroke="#000" stroke-width="0.8"/>
<text x="368.80" y="184.05" font-size="6" text-anchor="end" font-weight="bold">20</text>
<text x="357.30" y="230.20" font-size="6.95" text-anchor="middle" font-weight="bold" transform="rotate(-90 357.3 230.2)">permeability index [%] / migrating cell</text>
<rect x="391.2" y="245.57" width="38.1" height="34.23" fill="#000"/>
<line x1="410.20" y1="243.86" x2="410.20" y2="245.57" stroke="#000" stroke-width="1.0"/>
<line x1="408.50" y1="243.86" x2="411.90" y2="243.86" stroke="#000" stroke-width="1.0"/>
<line x1="408.50" y1="245.57" x2="411.90" y2="245.57" stroke="#000" stroke-width="1.0"/>
<circle cx="409.9" cy="237.9" r="0.9" fill="#000"/>
<rect x="454" y="214.76" width="36.5" height="65.04" fill="#fff" stroke="#000" stroke-width="1"/>
<line x1="472.00" y1="207.43" x2="472.00" y2="214.76" stroke="#000" stroke-width="1.0"/>
<line x1="470.30" y1="207.43" x2="473.70" y2="207.43" stroke="#000" stroke-width="1.0"/>
<line x1="470.30" y1="214.76" x2="473.70" y2="214.76" stroke="#000" stroke-width="1.0"/>
<text x="410.90" y="288.00" font-size="6.8" text-anchor="middle" font-weight="bold">WT</text>
<text x="472.40" y="288.00" font-size="7" text-anchor="middle" font-weight="bold">LSP1 -/-</text>
<line x1="385.00" y1="292.80" x2="492.30" y2="292.80" stroke="#000" stroke-width="0.9"/>
<text x="440.50" y="302.60" font-size="6.8" text-anchor="middle" font-weight="bold">KC superfusion [60 min]</text>
</svg>
</body></html>
